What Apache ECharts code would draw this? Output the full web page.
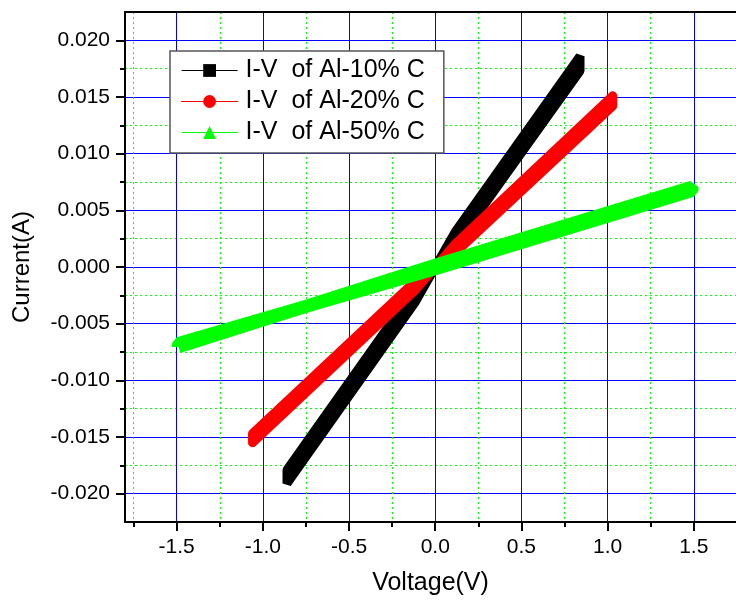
<!DOCTYPE html>
<html>
<head>
<meta charset="utf-8">
<script src="https://cdn.jsdelivr.net/npm/echarts@6/dist/echarts.min.js"></script>
<style>html,body{margin:0;padding:0;background:#fff;}#c{width:736px;height:602px;}</style>
</head>
<body>
<div id="c"></div>
<script>
// Data: each sweep goes 0 -> +Vmax -> 0 -> -Vmax -> 0 (pinched loop)
const seriesNames = ['I-V  of Al-10% C', 'I-V  of Al-20% C', 'I-V  of Al-50% C'];
const voltage10 = [0, 0.12, 0.84, 0.84, 0.12, 0, -0.12, -0.86, -0.86, -0.12, 0];
const current10 = [0, 0.0032, 0.0186, 0.0173, 0.0020, 0, -0.0032, -0.0191, -0.0179, -0.0020, 0];
const voltage20 = [0, 0.12, 1.03, 1.03, 0.12, 0, -0.12, -1.06, -1.06, -0.12, 0];
const current20 = [0, 0.0021, 0.0151, 0.0142, 0.0013, 0, -0.0021, -0.0155, -0.0147, -0.0013, 0];
const voltage50 = [-1.49, 0, 1.49, 1.49, 0, -1.49, -1.49];
const current50 = [-0.00705, 0.00015, 0.00705, 0.00675, -0.00015, -0.00675, -0.00705];
const xRange = [-1.8, 1.745];
const yRange = [-0.0225, 0.0225];
const xTickRange = [-1.5, 1.5];   // labelled major ticks
const yTickRange = [-0.020, 0.020];
const xInterval = 0.5;
const yInterval = 0.005;

const pairs = (xs, ys) => xs.map((x, i) => [x, ys[i]]);
const FONT = 'Liberation Sans, Arial, sans-serif';
const W = 736, H = 602;
const G = {left: 125, right: 0, top: 12, bottom: 80};

function buildOption(tickGrid) {
  const opt = {
    backgroundColor: '#ffffff',
    animation: false,
    textStyle: {fontFamily: FONT},
    grid: [Object.assign({containLabel: false}, G)],
    legend: {
      orient: 'vertical',
      left: 170, top: 51,
      padding: [7, 19, 8, 11],
      itemGap: 6,
      itemWidth: 56,
      itemHeight: 16,
      backgroundColor: '#ffffff',
      borderColor: '#555555',
      borderWidth: 1.5,
      borderRadius: 0,
      lineStyle: {width: 1.2},
      textStyle: {fontSize: 25, color: '#000', fontFamily: FONT, padding: [0, 0, 0, 3]},
      data: seriesNames
    },
    xAxis: [{
      gridIndex: 0, type: 'value', min: xRange[0], max: xRange[1], splitNumber: 7,
      name: 'Voltage(V)', nameLocation: 'middle', nameGap: 49,
      nameTextStyle: {fontSize: 25, color: '#000', fontFamily: FONT},
      axisLine: {show: true, onZero: false, lineStyle: {color: '#000', width: 2}},
      axisTick: {show: false},
      minorTick: {show: true, splitNumber: 2, length: 5, lineStyle: {color: '#000', width: 2}},
      axisLabel: {show: true, fontSize: 21, color: '#000', fontFamily: FONT, margin: 15,
        showMinLabel: false, showMaxLabel: false,
        formatter: v => Number(v).toFixed(1)},
      splitLine: {show: true, showMinLine: false, showMaxLine: false, lineStyle: {color: '#0000ff', width: 1, type: 'solid'}},
      minorSplitLine: {show: true, lineStyle: {color: '#00ff00', width: 1, type: [2, 3]}}
    }, {
      gridIndex: 0, type: 'value', position: 'top', min: xRange[0], max: xRange[1],
      axisLine: {show: true, onZero: false, lineStyle: {color: '#000', width: 2}},
      axisTick: {show: false}, axisLabel: {show: false}, splitLine: {show: false}
    }],
    yAxis: [{
      gridIndex: 0, type: 'value', min: yRange[0], max: yRange[1], splitNumber: 9,
      name: 'Current(A)', nameLocation: 'middle', nameGap: 91,
      nameTextStyle: {fontSize: 24, color: '#000', fontFamily: FONT},
      axisLine: {show: true, onZero: false, lineStyle: {color: '#000', width: 2}},
      axisTick: {show: false},
      minorTick: {show: true, splitNumber: 2, length: 5, lineStyle: {color: '#000', width: 2}},
      axisLabel: {show: true, fontSize: 21, color: '#000', fontFamily: FONT, margin: 15,
        showMinLabel: false, showMaxLabel: false,
        formatter: v => Number(v).toFixed(3)},
      splitLine: {show: true, showMinLine: false, showMaxLine: false, lineStyle: {color: '#0000ff', width: 1, type: 'solid'}},
      minorSplitLine: {show: true, lineStyle: {color: '#00ff00', width: 1, type: [2, 3]}}
    }],
    series: [{
      name: seriesNames[0], type: 'line', data: pairs(voltage10, current10),
      showSymbol: false, symbol: 'rect', symbolSize: 12, color: '#000000',
      itemStyle: {color: '#000000'},
      lineStyle: {color: '#000000', width: 9, cap: 'butt', join: 'bevel'}, z: 3
    }, {
      name: seriesNames[1], type: 'line', data: pairs(voltage20, current20),
      showSymbol: false, symbol: 'circle', symbolSize: 14, color: '#ff0000',
      itemStyle: {color: '#ff0000'},
      lineStyle: {color: '#ff0000', width: 9, cap: 'round', join: 'round'}, z: 4
    }, {
      name: seriesNames[2], type: 'line', data: pairs(voltage50, current50),
      showSymbol: false, symbol: 'triangle', symbolSize: 15, color: '#00ff00',
      itemStyle: {color: '#00ff00'},
      lineStyle: {color: '#00ff00', width: 13, cap: 'butt', join: 'bevel'}, z: 5
    }]
  };
  if (tickGrid) {
    // second grid spanning exactly the labelled tick range: it only draws the major tick marks,
    // offset outward so that they sit on the main frame's axis lines
    opt.grid.push(tickGrid.rect);
    opt.xAxis.push({
      gridIndex: 1, type: 'value', min: xTickRange[0], max: xTickRange[1], interval: xInterval,
      position: 'bottom', offset: tickGrid.xOffset,
      axisLine: {show: false, onZero: false}, axisLabel: {show: false}, splitLine: {show: false},
      axisTick: {show: true, inside: false, length: 9, lineStyle: {color: '#000', width: 2}}
    });
    opt.yAxis.push({
      gridIndex: 1, type: 'value', min: yTickRange[0], max: yTickRange[1], interval: yInterval,
      position: 'left', offset: tickGrid.yOffset,
      axisLine: {show: false, onZero: false}, axisLabel: {show: false}, splitLine: {show: false},
      axisTick: {show: true, inside: false, length: 9, lineStyle: {color: '#000', width: 2}}
    });
  }
  return opt;
}

const chart = echarts.init(document.getElementById('c'), null, {renderer: 'canvas'});
chart.setOption(buildOption(null));
const pLo = chart.convertToPixel({xAxisIndex: 0, yAxisIndex: 0}, [xTickRange[0], yTickRange[0]]);
const pHi = chart.convertToPixel({xAxisIndex: 0, yAxisIndex: 0}, [xTickRange[1], yTickRange[1]]);
const tickGrid = {
  rect: {left: pLo[0], right: W - pHi[0], top: pHi[1], bottom: H - pLo[1], containLabel: false},
  xOffset: (H - G.bottom) - pLo[1],
  yOffset: pLo[0] - G.left
};
chart.setOption(buildOption(tickGrid), true);
</script>
</body>
</html>
